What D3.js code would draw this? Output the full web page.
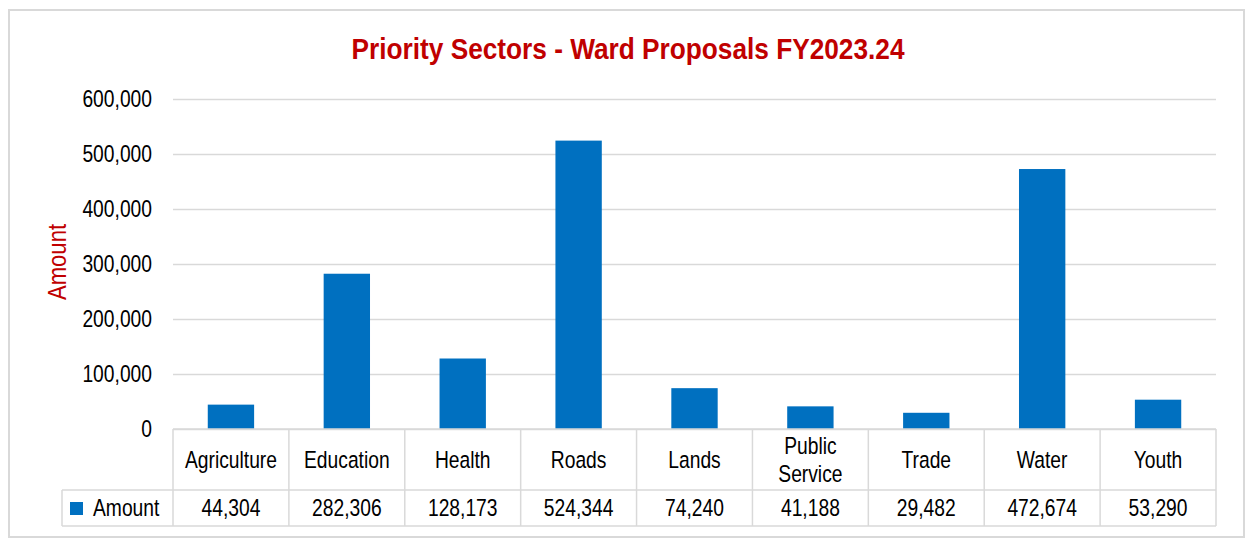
<!DOCTYPE html>
<html>
<head>
<meta charset="utf-8">
<script src="https://cdn.jsdelivr.net/npm/d3@7"></script>
<style>
  body { margin: 0; background: #fff; }
  svg { display: block; font-family: "Liberation Sans", Arial, sans-serif; }
</style>
</head>
<body>
<svg width="1246" height="540"></svg>
<script>
// chart data
const categories = ["Agriculture", "Education", "Health", "Roads", "Lands", "Public Service", "Trade", "Water", "Youth"];
const amounts = [44304, 282306, 128173, 524344, 74240, 41188, 29482, 472674, 53290];
const yTicks = [0, 100000, 200000, 300000, 400000, 500000, 600000];
const seriesName = "Amount";

const svg = d3.select("svg");
const fmt = d3.format(",");
const grey = "#d9d9d9";
const red = "#c00000";
const blue = "#0070c0";
const squeeze = 0.82;   // no narrow font installed, so condense Liberation Sans

// put a text at (x,y) and squeeze it horizontally
const place = (sel, px, py, sx = squeeze, extra = "") =>
  sel.attr("x", 0).attr("y", 0)
    .attr("transform", (d, i) => {
      const xx = typeof px === "function" ? px(d, i) : px;
      const yy = typeof py === "function" ? py(d, i) : py;
      return `translate(${xx},${yy}) ${extra} scale(${sx},1)`;
    });

// outer frame
svg.append("rect")
  .attr("x", 9).attr("y", 10).attr("width", 1235).attr("height", 527)
  .attr("fill", "none").attr("stroke", grey).attr("stroke-width", 2);

svg.append("text")
  .attr("text-anchor", "middle")
  .attr("font-size", 29).attr("font-weight", "bold")
  .attr("fill", red)
  .text("Priority Sectors - Ward Proposals FY2023.24")
  .call(place, 628, 59, 0.905);

const plotLeft = 173, plotRight = 1216, plotTop = 99, plotBottom = 429;

const x = d3.scaleBand()
  .domain(categories)
  .range([plotLeft, plotRight])
  .paddingInner(0.6)
  .paddingOuter(0.3);

const y = d3.scaleLinear()
  .domain([0, 600000])
  .range([plotBottom, plotTop]);

// gridlines + tick labels
const pad = 21;
const yAxis = svg.append("g")
  .attr("transform", `translate(${plotLeft},0)`)
  .call(d3.axisLeft(y).tickValues(yTicks).tickFormat(fmt).tickSize(-(plotRight - plotLeft)).tickPadding(pad));
yAxis.attr("font-family", null).attr("font-size", null);
yAxis.select(".domain").remove();
yAxis.selectAll(".tick line").attr("stroke", grey).attr("stroke-width", 1.5);
yAxis.selectAll(".tick text")
  .attr("font-size", 23.5).attr("fill", "#000")
  .attr("x", -pad / squeeze)
  .attr("transform", `scale(${squeeze},1)`);

svg.append("text")
  .attr("text-anchor", "middle")
  .attr("font-size", 26)
  .attr("fill", red)
  .text("Amount")
  .call(place, 66, 262, 0.85, "rotate(-90)");

// bars
svg.append("g").selectAll("rect")
  .data(amounts)
  .join("rect")
  .attr("x", (d, i) => x(categories[i]))
  .attr("y", d => y(d))
  .attr("width", x.bandwidth())
  .attr("height", d => y(0) - y(d))
  .attr("fill", blue);

// data table
const step = x.step();
const colStart = i => plotLeft + i * step;
const row1 = plotBottom, row2 = 490, row3 = 526, legendLeft = 62;
const table = svg.append("g").attr("stroke", grey).attr("stroke-width", 1.5).attr("fill", "none");
table.append("line").attr("x1", plotLeft).attr("x2", plotRight).attr("y1", row1).attr("y2", row1);
table.append("line").attr("x1", legendLeft).attr("x2", plotRight).attr("y1", row2).attr("y2", row2);
table.append("line").attr("x1", legendLeft).attr("x2", plotRight).attr("y1", row3).attr("y2", row3);
table.append("line").attr("x1", legendLeft).attr("x2", legendLeft).attr("y1", row2).attr("y2", row3);
table.selectAll("line.col")
  .data(d3.range(categories.length + 1))
  .join("line")
  .attr("class", "col")
  .attr("x1", colStart).attr("x2", colStart)
  .attr("y1", row1).attr("y2", row3);

// category labels, wrapped when too wide for the cell
const lh = 28;
svg.append("g").selectAll("text")
  .data(categories)
  .join("text")
  .attr("text-anchor", "middle")
  .attr("font-size", 23.5)
  .attr("fill", "#000")
  .call(place, (d, i) => colStart(i) + step / 2, (row1 + row2) / 2 + 8)
  .each(function(d) {
    const t = d3.select(this);
    t.text(d);
    let lines = [d];
    if (this.getComputedTextLength() * squeeze > step - 8 && d.includes(" ")) lines = d.split(" ");
    t.text(null);
    const y0 = -(lines.length - 1) * lh / 2;
    lines.forEach((l, k) => t.append("tspan").attr("x", 0).attr("y", y0 + k * lh).text(l));
  });

// values row
svg.append("g").selectAll("text")
  .data(amounts)
  .join("text")
  .attr("text-anchor", "middle")
  .attr("font-size", 23.5)
  .attr("fill", "#000")
  .text(fmt)
  .call(place, (d, i) => colStart(i) + step / 2, (row2 + row3) / 2 + 8);

// legend key
svg.append("rect")
  .attr("x", 70).attr("y", 502).attr("width", 13).attr("height", 13)
  .attr("fill", blue);
svg.append("text")
  .attr("font-size", 23.5)
  .attr("fill", "#000")
  .text(seriesName)
  .call(place, 93, (row2 + row3) / 2 + 8);
</script>
</body>
</html>
